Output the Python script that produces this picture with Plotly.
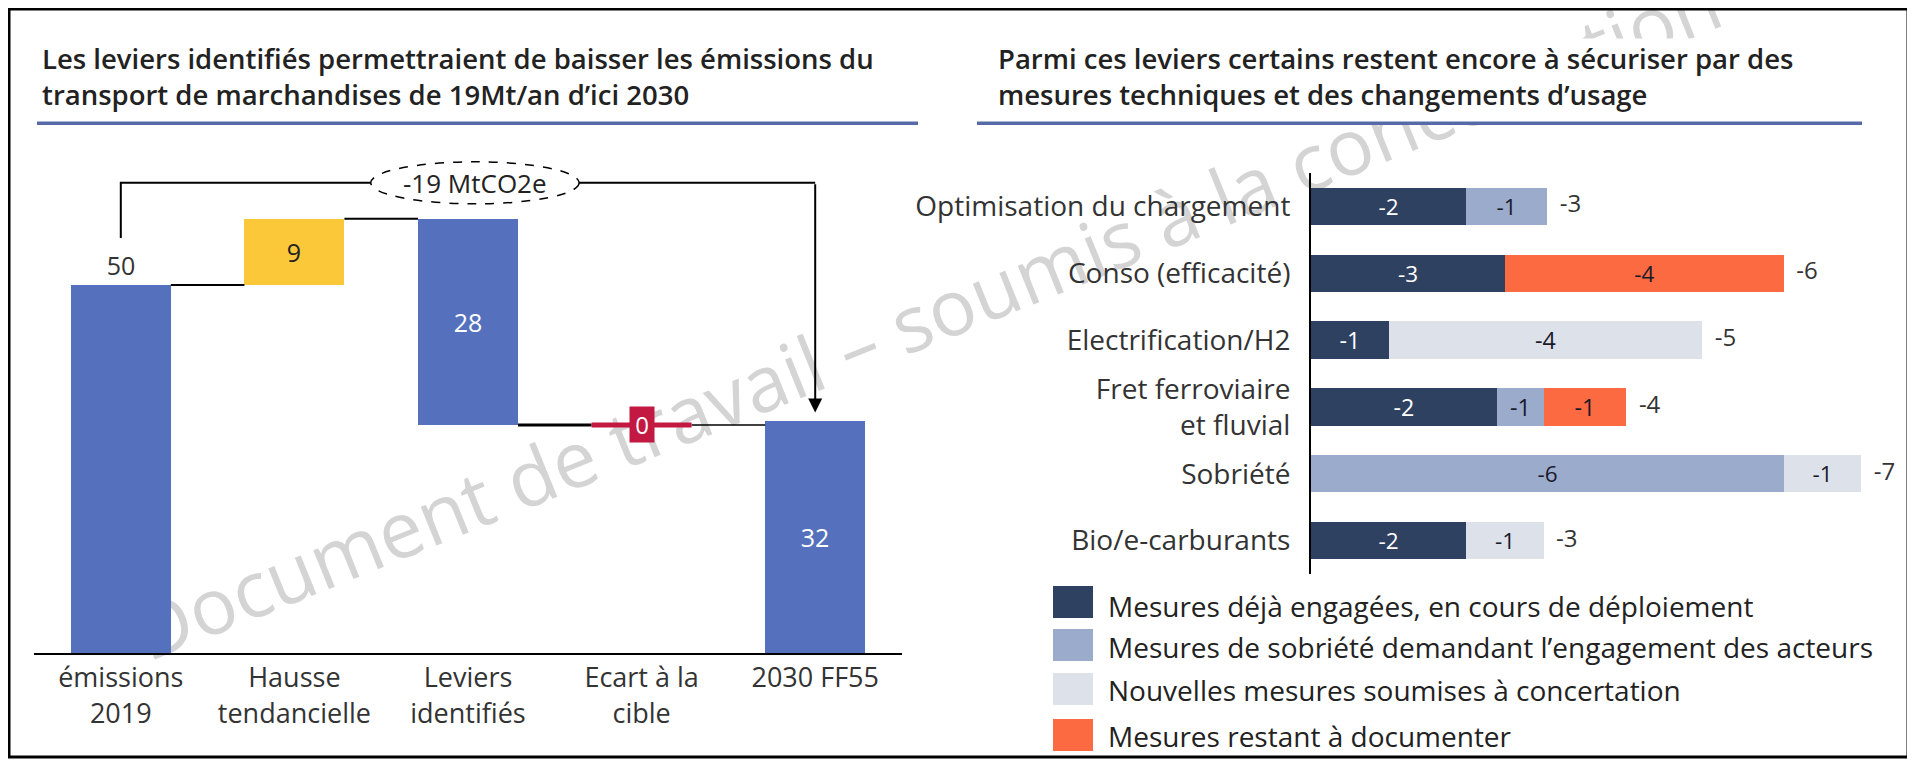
import plotly.graph_objects as go

# page offset (browser body margin) compensation
OFF = 8
W, H = 1915 - OFF, 763 - OFF
FONT = "Open Sans"

# ---------------- data: left waterfall ----------------
wf_categories = ["émissions<br>2019", "Hausse<br>tendancielle", "Leviers<br>identifiés",
                 "Ecart à la<br>cible", "2030 FF55"]
wf_values = [50, 9, -28, 0, 31.5]
wf_measures = ["absolute", "relative", "relative", "relative", "absolute"]
wf_colors = ["#5571bd", "#fbc83a", "#5571bd", "#c21842", "#5571bd"]
reduction_label = "-19 MtCO2e"

# ---------------- data: right stacked bars ----------------
levers = ["Optimisation du chargement", "Conso (efficacité)", "Electrification/H2",
          "Fret ferroviaire<br>et fluvial", "Sobriété", "Bio/e-carburants"]
engagees = [-2.0, -2.5, -1.0, -2.4, 0.0, -2.0]
sobriete = [-1.05, 0.0, 0.0, -0.6, -6.1, 0.0]
nouvelles = [0.0, 0.0, -4.05, 0.0, -1.0, -1.0]
a_documenter = [0.0, -3.6, 0.0, -1.07, 0.0, 0.0]
series = [engagees, sobriete, nouvelles, a_documenter]
series_names = ["Mesures déjà engagées, en cours de déploiement",
                "Mesures de sobriété demandant l’engagement des acteurs",
                "Nouvelles mesures soumises à concertation",
                "Mesures restant à documenter"]
series_colors = ["#2f4161", "#9aabcc", "#dde1ea", "#fc6a42"]
series_text_colors = ["white", "#1a1a2a", "#1a1a2a", "#1a1a2a"]

title_left = ["Les leviers identifiés permettraient de baisser les émissions du",
              "transport de marchandises de 19Mt/an d’ici 2030"]
title_right = ["Parmi ces leviers certains restent encore à sécuriser par des",
               "mesures techniques et des changements d’usage"]
watermark = "Document de travail – soumis à la concertation"


def px(x):
    return (x - OFF) / W


def py(y):
    return 1 - (y - OFF) / H


def lab(v):
    return "-%d" % int(abs(v) + 0.5)


def rnd(v):
    return "%d" % int(abs(v) + 0.5)


fig = go.Figure()

# ---------------- waterfall computed from data ----------------
bases, heights, ends = [], [], []
cum = 0
for v, m in zip(wf_values, wf_measures):
    if m == "absolute":
        bases.append(0)
        heights.append(v)
        cum = v
    else:
        bases.append(cum if v >= 0 else cum + v)
        heights.append(abs(v))
        cum += v
    ends.append(cum)

BW = 0.576
idx = list(range(len(wf_values)))
texts = [rnd(v) if i != 3 else "" for i, v in enumerate(wf_values)]
fig.add_trace(go.Bar(
    x=idx, y=heights, base=bases, width=BW,
    marker=dict(color=wf_colors, line=dict(width=0)),
    text=texts, textposition=["outside", "inside", "inside", "none", "inside"],
    insidetextanchor="middle", textangle=0,
    textfont=dict(family=FONT, size=25, color=["#333333", "#222222", "white", "white", "white"]),
    cliponaxis=False, hoverinfo="skip", showlegend=False,
    xaxis="x", yaxis="y",
))

shapes = []
annotations = []

# watermark (below traces)
wx, wy = 928, 320
shapes.append(dict(type="rect", xref="paper", yref="paper",
                   x0=px(wx - 10), x1=px(wx + 10), y0=py(wy + 10), y1=py(wy - 10),
                   line=dict(width=0), fillcolor="rgba(0,0,0,0)", layer="below",
                   label=dict(text=watermark, textangle=-22, textposition="middle center",
                              font=dict(family=FONT, size=78, color="#d4d4d4"))))
# opaque title boxes (hide the watermark like the original text boxes)
for x0, x1 in [(20, 925), (970, 1870)]:
    annotations.append(dict(x=px(x0), y=py(38), xref="paper", yref="paper", text=" ",
                            xanchor="left", yanchor="top", width=x1 - x0, height=82,
                            bgcolor="white", borderpad=0, showarrow=False))

# connectors
conn_w = [2, 2, 3, 1.5]
for i in range(len(wf_values) - 1):
    shapes.append(dict(type="line", xref="x", yref="y",
                       x0=i + BW / 2, x1=i + 1 - BW / 2, y0=ends[i], y1=ends[i],
                       line=dict(color="black", width=conn_w[i])))
# gap bar (zero) as red segment
shapes.append(dict(type="line", xref="x", yref="y", x0=3 - BW / 2, x1=3 + BW / 2,
                   y0=ends[3], y1=ends[3], line=dict(color=wf_colors[3], width=5)))
annotations.append(dict(x=3, y=ends[3], xref="x", yref="y", text=rnd(wf_values[3]),
                        showarrow=False, bgcolor=wf_colors[3], borderpad=0,
                        width=24, height=35,
                        font=dict(family=FONT, size=24, color="white")))

# bracket
bracket_y = max(ends) + 4.9
leg_y = wf_values[0] + 6.4
shapes.append(dict(type="path", xref="x", yref="y",
                   path="M 0 %f L 0 %f L 4 %f" % (leg_y, bracket_y, bracket_y),
                   line=dict(color="black", width=2)))
annotations.append(dict(x=4, y=wf_values[4] + 1.2, ax=4, ay=bracket_y, xref="x", yref="y",
                        axref="x", ayref="y", text="", showarrow=True, arrowhead=2,
                        arrowsize=1.4, arrowwidth=2, arrowcolor="black"))
shapes.append(dict(type="circle", xref="x", yref="y", x0=2.04 - 0.6, x1=2.04 + 0.6,
                   y0=bracket_y - 2.85, y1=bracket_y + 2.85, fillcolor="white",
                   line=dict(color="black", width=1.5, dash="dash")))
annotations.append(dict(x=2.04, y=bracket_y, xref="x", yref="y", text=reduction_label,
                        showarrow=False, font=dict(family=FONT, size=26, color="#222222")))

# ---------------- right stacked bars ----------------
for vals, name, col, tcol in zip(series, series_names, series_colors, series_text_colors):
    fig.add_trace(go.Bar(
        y=levers, x=vals, orientation="h", name=name, width=0.56,
        marker=dict(color=col, line=dict(width=0)),
        text=[lab(v) if v != 0 else "" for v in vals], textposition="inside",
        insidetextanchor="middle", textangle=0,
        textfont=dict(family=FONT, size=24, color=tcol),
        hoverinfo="skip", showlegend=False, xaxis="x2", yaxis="y2",
    ))
totals = [sum(r) for r in zip(*series)]
fig.add_trace(go.Scatter(
    y=levers, x=totals, mode="text", text=["  " + lab(t) for t in totals],
    textposition="middle right", textfont=dict(family=FONT, size=24, color="#333333"),
    cliponaxis=False, hoverinfo="skip", showlegend=False, xaxis="x2", yaxis="y2",
))

# manual legend
sw_y = [602, 645, 689, 735]
tx_y = [606, 647, 690, 736]
for name, col, sy, ty in zip(series_names, series_colors, sw_y, tx_y):
    shapes.append(dict(type="rect", xref="paper", yref="paper",
                       x0=px(1053), x1=px(1093), y0=py(sy + 16), y1=py(sy - 16),
                       fillcolor=col, line=dict(width=0)))
    annotations.append(dict(x=px(1106), y=py(ty), xref="paper", yref="paper", text=name,
                            xanchor="left", yanchor="middle", showarrow=False,
                            font=dict(family=FONT, size=28, color="#222222")))

# titles
for lines, x0 in [(title_left, 40), (title_right, 996)]:
    annotations.append(dict(x=px(x0), y=py(77), xref="paper", yref="paper",
                            text="<br>".join(lines), xanchor="left", yanchor="middle",
                            align="left", showarrow=False,
                            font=dict(family=FONT, size=27.5, color="#222222", weight=600)))
for x0, x1 in [(37, 918), (977, 1862)]:
    shapes.append(dict(type="line", xref="paper", yref="paper", x0=px(x0), x1=px(x1),
                       y0=py(123), y1=py(123), line=dict(color="#566aa8", width=4)))

# outer frame
shapes.append(dict(type="rect", xref="paper", yref="paper", x0=px(9), x1=px(1908),
                   y0=py(757), y1=py(9), line=dict(color="black", width=3)))

fig.update_layout(
    width=W, height=H, margin=dict(l=0, r=0, t=0, b=0),
    paper_bgcolor="white", plot_bgcolor="rgba(0,0,0,0)",
    barmode="relative", bargap=0,
    font=dict(family=FONT, color="#222222"),
    shapes=shapes, annotations=annotations,
    xaxis=dict(domain=[px(34), px(902)], range=[-0.5, 4.5], tickvals=idx, ticktext=wf_categories,
               showline=True, linecolor="black", linewidth=2, ticks="", showgrid=False,
               zeroline=False, tickfont=dict(family=FONT, size=27, color="#333333"),
               ticklabelstandoff=0, anchor="y"),
    yaxis=dict(domain=[py(653), py(160)], range=[0, 67], visible=False, anchor="x"),
    xaxis2=dict(domain=[px(1311), px(1900)], range=[0, -7.6], visible=False, anchor="y2"),
    yaxis2=dict(domain=[py(574), py(173)], type="category", categoryorder="array",
                categoryarray=levers, range=[5.5, -0.5], showline=True, linecolor="black",
                linewidth=2, ticks="", showgrid=False, zeroline=False, anchor="x2",
                tickfont=dict(family=FONT, size=28, color="#333333"), ticklabelstandoff=13),
)

fig.write_html("out.html")
